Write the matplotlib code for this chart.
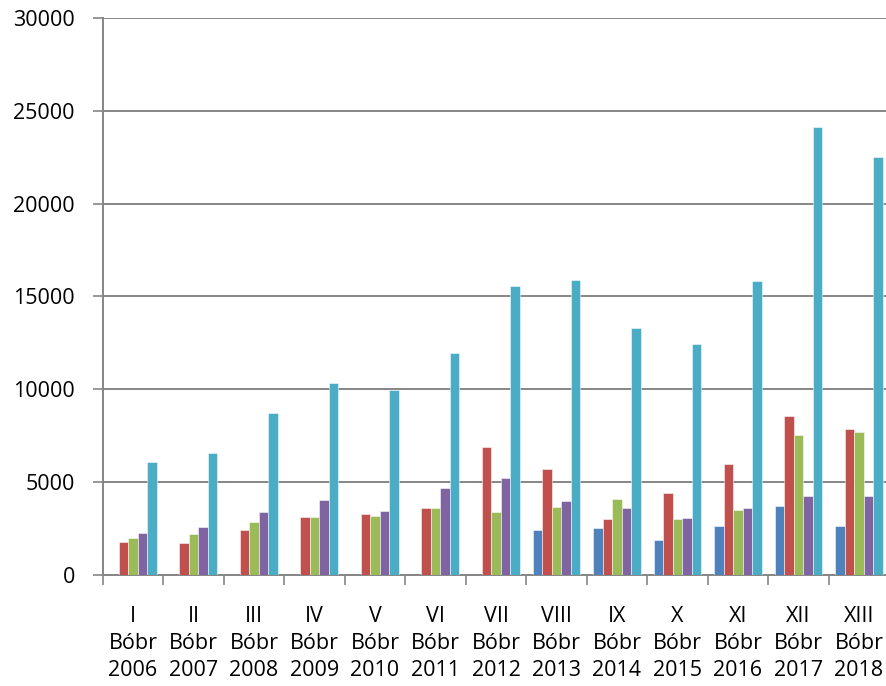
import numpy as np
import matplotlib
matplotlib.use("Agg")
import matplotlib.pyplot as plt

categories = ["I\nBóbr\n2006", "II\nBóbr\n2007", "III\nBóbr\n2008", "IV\nBóbr\n2009",
              "V\nBóbr\n2010", "VI\nBóbr\n2011", "VII\nBóbr\n2012", "VIII\nBóbr\n2013",
              "IX\nBóbr\n2014", "X\nBóbr\n2015", "XI\nBóbr\n2016", "XII\nBóbr\n2017",
              "XIII\nBóbr\n2018"]

s_blue   = [np.nan, np.nan, np.nan, np.nan, np.nan, np.nan, np.nan, 2440, 2550, 1870, 2660, 3720, 2660]
s_red    = [1790, 1720, 2430, 3140, 3290, 3590, 6890, 5710, 3000, 4400, 6000, 8580, 7880]
s_green  = [1990, 2230, 2870, 3120, 3180, 3590, 3410, 3680, 4110, 3030, 3520, 7560, 7700]
s_purple = [2250, 2600, 3380, 4040, 3450, 4700, 5210, 4000, 3590, 3070, 3610, 4240, 4240]
s_cyan   = [6070, 6590, 8740, 10320, 9960, 11940, 15560, 15900, 13300, 12440, 15830, 24140, 22510]

series = [s_blue, s_red, s_green, s_purple, s_cyan]
colors = ["#4F81BD", "#C0504D", "#9BBB59", "#8064A2", "#4BACC6"]

yticks = [0, 5000, 10000, 15000, 20000, 25000, 30000]

plt.rcParams['font.family'] = ['Open Sans', 'DejaVu Sans']

fig = plt.figure(figsize=(8.86, 6.86), dpi=100)
ax = fig.add_axes([102.7 / 886, 111 / 686, 786.5 / 886, 557 / 686])

x = np.arange(len(categories))
bw = 0.157
n = len(series)
for i, (vals, c) in enumerate(zip(series, colors)):
    offs = (i - (n - 1) / 2) * bw
    ax.bar(x + offs, vals, width=bw, color=c, edgecolor=(1, 1, 1, 0.6),
           linewidth=0.6, zorder=3)

ax.set_xlim(-0.5, len(categories) - 0.5)
ax.set_ylim(0, 30000)
ax.set_yticks(yticks)
ax.set_yticklabels([str(v) for v in yticks])

ax.set_xticks(x)
ax.set_xticklabels(categories, linespacing=1.38)
ax.set_xticks(np.arange(len(categories) + 1) - 0.5, minor=True)
ax.tick_params(axis='x', which='major', length=0, pad=22, labelsize=15.5)
ax.tick_params(axis='x', which='minor', length=7, width=1.2, color='#868686', direction='out')
ax.tick_params(axis='y', length=7, width=1.2, color='#868686', direction='out',
               pad=13, labelsize=15.5)

ax.grid(axis='y', color='#868686', linewidth=1.4, zorder=0)
ax.set_axisbelow(True)
for sp in ['top', 'right']:
    ax.spines[sp].set_visible(False)
for sp in ['left', 'bottom']:
    ax.spines[sp].set_color('#868686')
    ax.spines[sp].set_linewidth(1.4)

fig.savefig("out.png", dpi=100)
